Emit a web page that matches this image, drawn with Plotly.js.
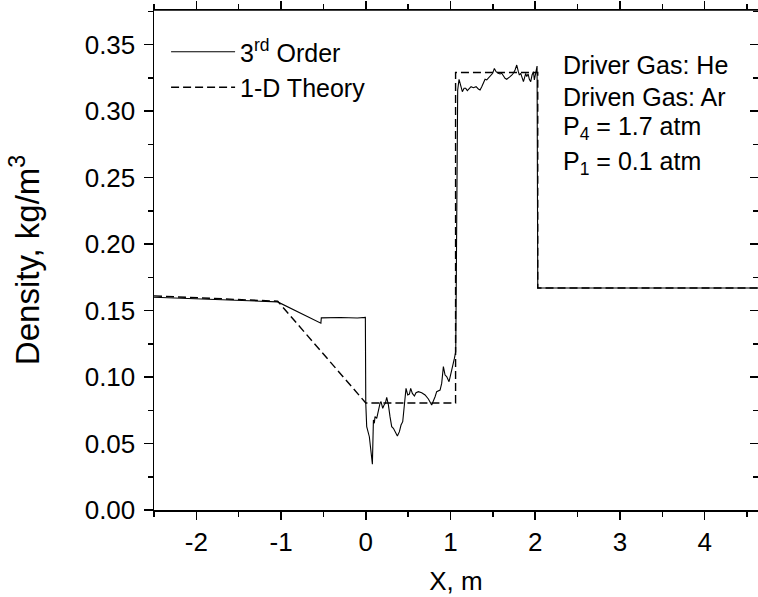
<!DOCTYPE html>
<html>
<head>
<meta charset="utf-8">
<script src="https://cdn.plot.ly/plotly-3.0.1.min.js"></script>
<style>html,body{margin:0;padding:0;background:#fff;}#chart{width:758px;height:597px;}</style>
</head>
<body>
<div id="chart"></div>
<script>
// 3rd order solution (solid)
const xSolid = [-2.5, -1.04, -0.53, -0.525, -0.3, -0.1, -0.005, 0.0, 0.011, 0.042, 0.078,
  0.090, 0.101, 0.109, 0.129, 0.149, 0.168, 0.180, 0.200, 0.216, 0.231, 0.247, 0.267, 0.286,
  0.306, 0.326, 0.345, 0.373, 0.397, 0.416, 0.436, 0.452, 0.475, 0.495, 0.515, 0.530, 0.550,
  0.574, 0.593, 0.621, 0.660, 0.700, 0.739, 0.778, 0.798, 0.818, 0.837, 0.877, 0.896, 0.916,
  0.936, 0.955, 0.983, 1.003, 1.026, 1.046, 1.062, 1.073, 1.085, 1.101, 1.121, 1.140, 1.160,
  1.180, 1.199, 1.219, 1.243, 1.270, 1.302, 1.329, 1.349, 1.369, 1.388, 1.408, 1.428, 1.447,
  1.475, 1.498, 1.518, 1.538, 1.565, 1.585, 1.605, 1.624, 1.644, 1.664, 1.683, 1.703, 1.723,
  1.742, 1.762, 1.782, 1.801, 1.813, 1.829, 1.845, 1.861, 1.872, 1.888, 1.900, 1.916, 1.931,
  1.947, 1.963, 1.979, 1.990, 2.002, 2.014, 2.022, 2.03, 4.65];
const ySolid = [0.1600, 0.1565, 0.1405, 0.1445, 0.1448, 0.1444, 0.1448, 0.0800, 0.0627, 0.0551, 0.0345,
  0.0677, 0.0652, 0.0702, 0.0689, 0.0752, 0.0802, 0.0815, 0.0765, 0.0790, 0.0802, 0.0847, 0.0790, 0.0702,
  0.0627, 0.0614, 0.0589, 0.0556, 0.0589, 0.0639, 0.0664, 0.0752, 0.0915, 0.0865, 0.0872, 0.0915, 0.0877,
  0.0857, 0.0882, 0.0890, 0.0882, 0.0865, 0.0835, 0.0790, 0.0815, 0.0852, 0.0890, 0.0902, 0.0952, 0.1078,
  0.1015, 0.1003, 0.0965, 0.1015, 0.1090, 0.1140, 0.1191, 0.2000, 0.3158, 0.3239, 0.3183, 0.3146, 0.3171,
  0.3171, 0.3153, 0.3171, 0.3183, 0.3176, 0.3183, 0.3166, 0.3158, 0.3183, 0.3214, 0.3239, 0.3234, 0.3246,
  0.3264, 0.3284, 0.3321, 0.3296, 0.3284, 0.3279, 0.3284, 0.3264, 0.3246, 0.3239, 0.3246, 0.3259, 0.3271,
  0.3284, 0.3309, 0.3346, 0.3296, 0.3271, 0.3284, 0.3259, 0.3221, 0.3246, 0.3284, 0.3259, 0.3279, 0.3239,
  0.3221, 0.3271, 0.3296, 0.3234, 0.3284, 0.3334, 0.3339, 0.167, 0.167];
// 1-D theory (dashed)
const xTheory = [-2.5, -1.04, 0.0, 1.06, 1.06, 2.03, 2.03, 4.65];
const yTheory = [0.1610, 0.1570, 0.0805, 0.0805, 0.329, 0.329, 0.167, 0.167];
const seriesNames = ['3<sup>rd</sup> Order', '1-D Theory'];
const infoLines = ['Driver Gas: He', 'Driven Gas: Ar', 'P<sub>4</sub> = 1.7 atm', 'P<sub>1</sub> = 0.1 atm'];
const xTickVals = [-2, -1, 0, 1, 2, 3, 4];
const xTickText = ['-2', '-1', '0', '1', '2', '3', '4'];
const xRange = [-2.5, 4.63];
const yRange = [0, 0.376];

const FONT = 'Liberation Sans, Arial, sans-serif';
const FS_TICK = 26, FS_TEXT = 25, FS_LEG = 25, FS_XT = 26, FS_YT = 33;

const traces = [
  {x: xSolid, y: ySolid, mode: 'lines', name: seriesNames[0], xaxis: 'x', yaxis: 'y',
   line: {color: '#000', width: 1.1}},
  {x: xTheory, y: yTheory, mode: 'lines', name: seriesNames[1], xaxis: 'x', yaxis: 'y2',
   line: {color: '#000', width: 1.4, dash: '8px,4px'}}
];

const infoY = [0.89, 0.826, 0.764, 0.694];
const annotations = infoLines.map((t, i) => ({
  text: t, xref: 'paper', yref: 'paper', x: 0.674, y: infoY[i],
  xanchor: 'left', yanchor: 'middle', showarrow: false,
  font: {family: FONT, size: FS_TEXT, color: '#000'}
}));

const commonY = {
  range: yRange, dtick: 0.05, tick0: 0, showgrid: false, zeroline: false,
  showline: true, linecolor: '#000', linewidth: 1.5, tickcolor: '#000', tickwidth: 1.5
};

const layout = {
  width: 758, height: 597,
  margin: {l: 154, r: 0, t: 10, b: 87},
  paper_bgcolor: '#fff', plot_bgcolor: '#fff',
  font: {family: FONT, size: FS_TEXT, color: '#000'},
  showlegend: true,
  legend: {x: 0.02, y: 0.962, xanchor: 'left', yanchor: 'top', bgcolor: 'rgba(0,0,0,0)',
           borderwidth: 0, itemwidth: 64, tracegroupgap: 0,
           font: {family: FONT, size: FS_LEG, color: '#000'}},
  xaxis: {
    range: xRange, tickmode: 'array', tickvals: xTickVals, ticktext: xTickText,
    showgrid: false, zeroline: false, mirror: 'ticks',
    showline: true, linecolor: '#000', linewidth: 1.5, tickcolor: '#000', tickwidth: 1.5,
    ticks: 'outside', ticklen: 8, side: 'bottom', anchor: 'y',
    minor: {dtick: 0.5, tick0: 0, ticks: 'outside', ticklen: 5, tickcolor: '#000', tickwidth: 1.5},
    tickfont: {family: FONT, size: FS_TICK, color: '#000'},
    title: {text: 'X, m', font: {family: FONT, size: FS_XT, color: '#000'}, standoff: 16}
  },
  yaxis: Object.assign({}, commonY, {
    ticks: 'outside', ticklen: 9, tickformat: '.2f', anchor: 'x', ticklabelstandoff: 3,
    minor: {dtick: 0.025, tick0: 0, ticks: 'outside', ticklen: 5, tickcolor: '#000', tickwidth: 1.5},
    tickfont: {family: FONT, size: FS_TICK, color: '#000'},
    title: {text: 'Density, kg/m<sup>3</sup>', font: {family: FONT, size: FS_YT, color: '#000'}, standoff: 35}
  }),
  yaxis2: Object.assign({}, commonY, {
    overlaying: 'y', anchor: 'x', side: 'right', ticks: 'inside', ticklen: 8,
    showticklabels: false,
    minor: {dtick: 0.025, tick0: 0, ticks: 'inside', ticklen: 5, tickcolor: '#000', tickwidth: 1.5}
  }),
  shapes: [
    {type: 'line', xref: 'paper', yref: 'paper', x0: 0, x1: 1, y0: 1, y1: 1,
     layer: 'above', line: {color: '#000', width: 1.5}}
  ],
  annotations: annotations
};

Plotly.newPlot('chart', traces, layout, {displayModeBar: false, staticPlot: true});
</script>
</body>
</html>
